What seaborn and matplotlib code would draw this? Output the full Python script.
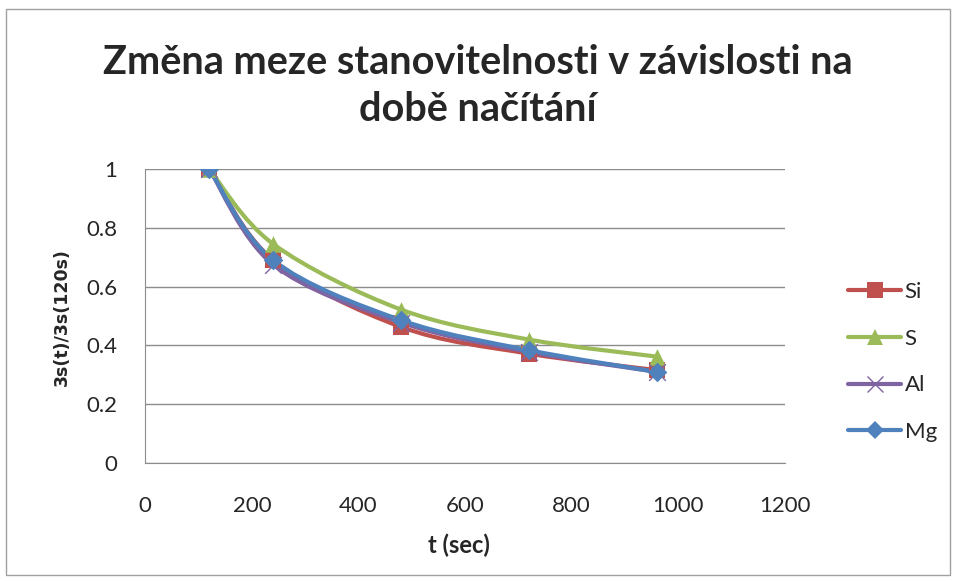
import numpy as np
import pandas as pd
import matplotlib
matplotlib.use('Agg')
import matplotlib.pyplot as plt
from matplotlib.path import Path
from matplotlib.patches import PathPatch, Rectangle
from matplotlib.lines import Line2D
import seaborn as sns

# data
t = [120, 240, 480, 720, 960]
si = [1.0, 0.69, 0.463, 0.372, 0.316]
s = [1.0, 0.745, 0.522, 0.42, 0.362]
al = [1.0, 0.675, 0.478, 0.378, 0.31]
mg = [1.0, 0.69, 0.486, 0.384, 0.31]

names = ['Si', 'S', 'Al', 'Mg']
colors = ['#C0504D', '#9BBB59', '#8064A2', '#4F81BD']
markers = ['s', '^', 'x', 'D']
msizes = [12, 12, 12, 10]

df = pd.DataFrame({'t': t * 4,
                   'val': si + s + al + mg,
                   'prvek': sum([[n] * len(t) for n in names], [])})

sns.set_style('white')
plt.rcParams['font.family'] = ['Lato', 'DejaVu Sans']

fig = plt.figure(figsize=(9.56, 5.81), dpi=100)
ax = fig.add_axes([0.152, 0.203, 0.669, 0.506])

# excel-like smooth line (catmull-rom as bezier segments)
def smooth_path(x, y):
    x = np.asarray(x, float)
    y = np.asarray(y, float)
    verts = [(x[0], y[0])]
    codes = [Path.MOVETO]
    n = len(x)
    for i in range(n - 1):
        p0 = (x[i - 1], y[i - 1]) if i > 0 else (x[i], y[i])
        p1 = (x[i], y[i])
        p2 = (x[i + 1], y[i + 1])
        p3 = (x[i + 2], y[i + 2]) if i + 2 < n else (x[i + 1], y[i + 1])
        c1 = (p1[0] + (p2[0] - p0[0]) / 6, p1[1] + (p2[1] - p0[1]) / 6)
        c2 = (p2[0] - (p3[0] - p1[0]) / 6, p2[1] - (p3[1] - p1[1]) / 6)
        verts += [c1, c2, p2]
        codes += [Path.CURVE4] * 3
    return Path(verts, codes)

for n, c in zip(names, colors):
    sub = df[df['prvek'] == n]
    ax.add_patch(PathPatch(smooth_path(sub['t'], sub['val']), fill=False,
                           edgecolor=c, lw=3, zorder=2))

for n, c, m, ms in zip(names, colors, markers, msizes):
    sub = df[df['prvek'] == n]
    sns.scatterplot(x='t', y='val', data=sub, ax=ax, color=c, marker=m,
                    s=ms ** 2, edgecolor=c if m != 'x' else None,
                    linewidth=1 if m == 'x' else 0, zorder=3, legend=False)

ax.set_xlim(0, 1200)
ax.set_ylim(0, 1)
ax.set_xticks(range(0, 1201, 200))
ax.set_yticks([0, 0.2, 0.4, 0.6, 0.8, 1])
ax.set_yticklabels(['0', '0.2', '0.4', '0.6', '0.8', '1'])
ax.yaxis.grid(True, color='#8C8C8C', lw=1)
ax.xaxis.grid(False)
for sp in ['top', 'right']:
    ax.spines[sp].set_visible(False)
for sp in ['left', 'bottom']:
    ax.spines[sp].set_color('#8C8C8C')
ax.tick_params(labelsize=16, length=0)
ax.tick_params(axis='x', pad=24)
ax.tick_params(axis='y', pad=20)
ax.set_xlabel('t (sec)', fontsize=17, fontweight='bold')
ax.xaxis.set_label_coords(0.49, -0.24)
ax.set_ylabel('3s(t)/3s(120s)', fontsize=12.5, fontweight='bold',
              family='DejaVu Sans')
ax.yaxis.set_label_coords(-0.117, 0.497)

fig.text(0.5, 0.893, 'Změna meze stanovitelnosti v závislosti na',
         ha='center', va='center', fontsize=28.5, fontweight='bold')
fig.text(0.5, 0.812, 'době načítání',
         ha='center', va='center', fontsize=28.5, fontweight='bold')

handles = [Line2D([0], [0], color=c, lw=3, marker=m, markersize=ms * 0.95,
                  markeredgewidth=1 if m == 'x' else 0)
           for c, m, ms in zip(colors, markers, msizes)]
fig.legend(handles, names, loc='center left', bbox_to_anchor=(0.887, 0.377),
           frameon=False, fontsize=16, handlelength=2.4, handletextpad=0.15,
           labelspacing=1.2, borderpad=0, borderaxespad=0)

fig.patches.append(Rectangle((0.006, 0.01), 0.988, 0.975, transform=fig.transFigure,
                             fill=False, edgecolor='#A0A0A0', lw=1))

fig.savefig('out.png', dpi=100)
